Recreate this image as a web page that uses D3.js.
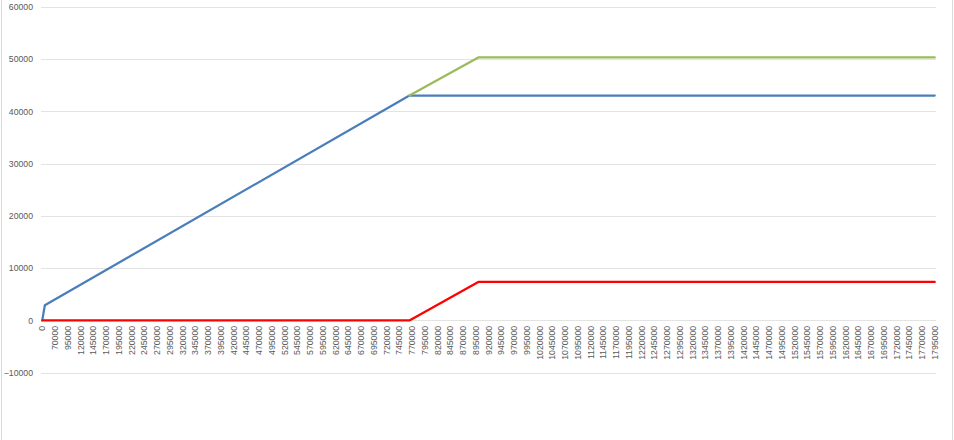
<!DOCTYPE html>
<html>
<head>
<meta charset="utf-8">
<script src="https://cdn.jsdelivr.net/npm/d3@7"></script>
<style>
  html, body { margin: 0; padding: 0; background: #fff; }
  svg { display: block; }
  text { font-family: "Liberation Sans", Arial, sans-serif; }
</style>
</head>
<body>
<svg id="chart" width="954" height="440"></svg>
<script>
// ---- data ----
const yTicks = [-10000, 0, 10000, 20000, 30000, 40000, 50000, 60000];
const xTickLabels = [0, 70000, 95000, 120000, 145000, 170000, 195000, 220000, 245000, 270000, 295000,
  320000, 345000, 370000, 395000, 420000, 445000, 470000, 495000, 520000, 545000, 570000, 595000,
  620000, 645000, 670000, 695000, 720000, 745000, 770000, 795000, 820000, 845000, 870000, 895000,
  920000, 945000, 970000, 995000, 1020000, 1045000, 1070000, 1095000, 1120000, 1145000, 1170000,
  1195000, 1220000, 1245000, 1270000, 1295000, 1320000, 1345000, 1370000, 1395000, 1420000,
  1445000, 1470000, 1495000, 1520000, 1545000, 1570000, 1595000, 1620000, 1645000, 1670000,
  1695000, 1720000, 1745000, 1770000, 1795000];
// category axis: first category 0, then 50000 .. 1795000 every 5000
const categoryBreaks = [0, 50000, 1795000];
const categoryCount = 351;

const blueX = [0, 50000, 765000, 1795000];
const blueY = [0, 2900, 43000, 43000];
const greenX = [765000, 900000, 1795000];
const greenY = [43000, 50300, 50300];
const redX = [0, 765000, 900000, 1795000];
const redY = [0, 0, 7350, 7350];

// ---- layout ----
const svg = d3.select("#chart");
const plotLeft = 41, plotRight = 936;
const step = (plotRight - plotLeft) / categoryCount;
const x = d3.scaleLinear()
  .domain(categoryBreaks)
  .range([plotLeft + step / 2, plotLeft + step * 1.5, plotRight - step / 2]);
const y = d3.scaleLinear().domain([-10000, 60000]).range([372.7, 6.7]);

// chart border (left/right visible)
svg.append("line").attr("x1", 1.5).attr("x2", 1.5).attr("y1", 0).attr("y2", 440)
  .attr("stroke", "#d9d9d9").attr("stroke-width", 1);
svg.append("line").attr("x1", 952.5).attr("x2", 952.5).attr("y1", 0).attr("y2", 440)
  .attr("stroke", "#d9d9d9").attr("stroke-width", 1);

// gridlines
svg.append("g").selectAll("line").data(yTicks).join("line")
  .attr("x1", plotLeft).attr("x2", plotRight)
  .attr("y1", d => Math.round(y(d)) + 0.5).attr("y2", d => Math.round(y(d)) + 0.5)
  .attr("stroke", "#e3e3e3").attr("stroke-width", 1);

// y axis labels
const yAxis = d3.axisLeft(y).tickValues(yTicks).tickSize(0).tickPadding(0)
  .tickFormat(d3.format("d"));
const gy = svg.append("g").attr("transform", "translate(33,0)").call(yAxis);
gy.select(".domain").remove();
gy.selectAll("text").attr("fill", "#595959").style("font-size", "8.7px")
  .style("font-family", "'Liberation Sans', Arial, sans-serif");

// x axis labels (category axis, rotated)
const gx = svg.append("g");
gx.selectAll("text").data(xTickLabels).join("text")
  .attr("transform", d => `translate(${x(d)},${y(0) + 5.5}) rotate(-90)`)
  .attr("text-anchor", "end")
  .attr("dy", "0.35em")
  .attr("fill", "#595959")
  .style("font-size", "8.7px")
  .text(d => d);

// lines
const line = d3.line().x(d => x(d[0])).y(d => y(d[1]));
const series = [
  { xs: blueX, ys: blueY, color: "#4a7ebb" },
  { xs: greenX, ys: greenY, color: "#9bbb59" },
  { xs: redX, ys: redY, color: "#ff0000" }
];
series.forEach(s => {
  svg.append("path")
    .datum(s.xs.map((v, i) => [v, s.ys[i]]))
    .attr("d", line)
    .attr("fill", "none")
    .attr("stroke", s.color)
    .attr("stroke-width", 2.25)
    .attr("stroke-linejoin", "round")
    .attr("stroke-linecap", "round");
});
</script>
</body>
</html>
